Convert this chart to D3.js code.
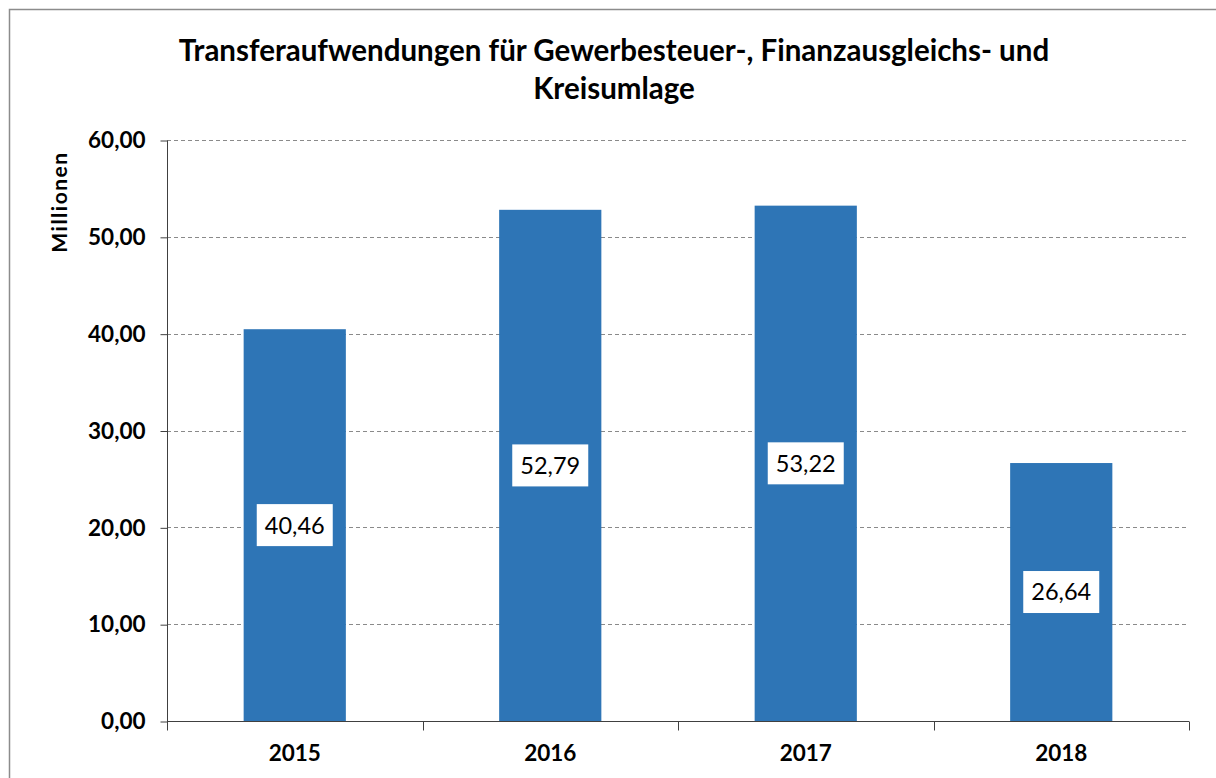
<!DOCTYPE html>
<html><head><meta charset="utf-8">
<script src="https://cdn.jsdelivr.net/npm/d3@7"></script>
<style>html,body{margin:0;padding:0;background:#fff;}svg{display:block;}</style>
</head><body>
<svg id="c" width="1216" height="778"></svg>
<script>
const categories = ["2015", "2016", "2017", "2018"];
const values = [40.46, 52.79, 53.22, 26.64];
const yTicks = [0, 10, 20, 30, 40, 50, 60];
const titleLines = ["Transferaufwendungen für Gewerbesteuer-, Finanzausgleichs- und", "Kreisumlage"];
const yAxisTitle = "Millionen";

(function () {
const fmt = v => v.toFixed(2).replace(".", ",");
const svg = d3.select("#c");
const font = "Lato, 'Open Sans', sans-serif";

// outer border
svg.append("rect").attr("x", 9.5).attr("y", 9.5).attr("width", 1240).attr("height", 800)
  .attr("fill", "none").attr("stroke", "#8c8c8c").attr("stroke-width", 1.5);

const pL = 167, pR = 1189, pT = 140, pB = 721;
const x = d3.scaleBand().domain(categories).range([pL, pR]).padding(0);
const y = d3.scaleLinear().domain([0, 60]).range([pB, pT]);

// gridlines
svg.append("g").selectAll("line").data(yTicks.filter(d => d > 0)).join("line")
  .attr("x1", pL).attr("x2", pR)
  .attr("y1", d => Math.round(y(d)) + 0.5).attr("y2", d => Math.round(y(d)) + 0.5)
  .attr("stroke", "#8a8a8a").attr("stroke-width", 1).attr("stroke-dasharray", "4,3");

// bars
const bw = x.bandwidth() * 0.4;
svg.append("g").selectAll("rect").data(values).join("rect")
  .attr("x", (d, i) => x(categories[i]) + (x.bandwidth() - bw) / 2)
  .attr("y", d => y(d))
  .attr("width", bw)
  .attr("height", d => y(0) - y(d))
  .attr("fill", "#2E75B6");

// y axis
const yAxis = d3.axisLeft(y).tickValues(yTicks).tickFormat(fmt).tickSize(7).tickPadding(15);
const gy = svg.append("g").attr("transform", `translate(${pL + 0.5},0.5)`).call(yAxis);
gy.select(".domain").attr("stroke", "#404040").attr("d", `M0,${pT}V${pB}`);
gy.selectAll(".tick line").attr("stroke", "#404040");
gy.selectAll(".tick text").attr("font-family", font).attr("font-weight", "bold")
  .attr("font-size", 22.5).attr("fill", "#000");

// x axis
const xAxis = d3.axisBottom(x).tickSize(0).tickPadding(24);
const gx = svg.append("g").attr("transform", `translate(0,${pB + 0.5})`).call(xAxis);
gx.select(".domain").attr("stroke", "#404040").attr("d", `M${pL},0H${pR}`);
gx.selectAll(".tick text").attr("font-family", font).attr("font-weight", "bold")
  .attr("font-size", 22.5).attr("fill", "#000");
const bounds = categories.map(c => x(c)).concat([pR]);
gx.append("g").selectAll("line").data(bounds).join("line")
  .attr("x1", d => Math.round(d) + 0.5).attr("x2", d => Math.round(d) + 0.5)
  .attr("y1", 0).attr("y2", 9).attr("stroke", "#404040");

// data labels
const lbl = svg.append("g").selectAll("g").data(values).join("g")
  .attr("transform", (d, i) => `translate(${x(categories[i]) + x.bandwidth() / 2},${(y(d) + y(0)) / 2})`);
lbl.append("rect").attr("x", -38).attr("y", -21).attr("width", 76).attr("height", 42).attr("fill", "#fff");
lbl.append("text").attr("text-anchor", "middle").attr("dy", "0.36em")
  .attr("font-family", font).attr("font-size", 23.5).attr("fill", "#000").text(d => fmt(d));

// title
svg.append("g").selectAll("text").data(titleLines).join("text")
  .attr("x", 614).attr("y", (d, i) => 61 + i * 38).attr("text-anchor", "middle")
  .attr("font-family", font).attr("font-weight", "bold").attr("font-size", 29.5).attr("fill", "#000")
  .text(d => d);

// y axis title
svg.append("text").attr("transform", "translate(67,202) rotate(-90)").attr("text-anchor", "middle")
  .attr("font-family", font).attr("font-weight", "bold").attr("font-size", 21).attr("letter-spacing", 1.5)
  .attr("fill", "#000")
  .text(yAxisTitle);
})();
</script>
</body></html>
